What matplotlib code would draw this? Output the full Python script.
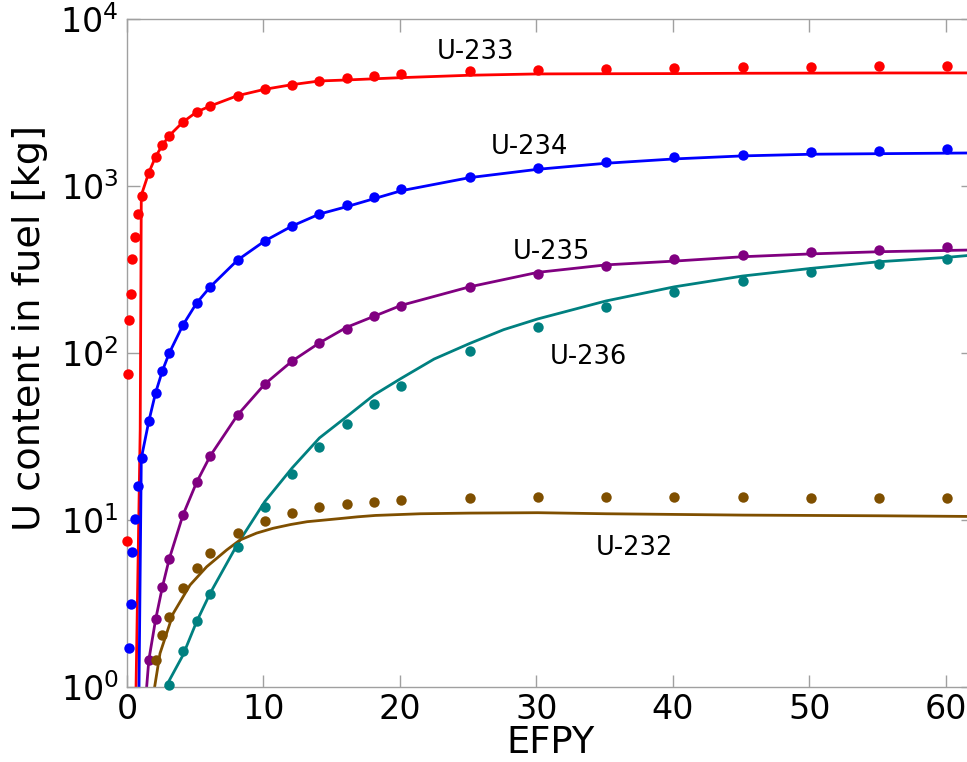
import numpy as np
import matplotlib
matplotlib.use("Agg")
import matplotlib.pyplot as plt
from matplotlib.ticker import NullLocator

nan = np.nan

# Depletion-code results (dots), shared time grid in EFPY
t_dots = [0.0, 0.07, 0.15, 0.27, 0.4, 0.6, 0.8, 1.07, 1.6, 2.1, 2.6, 3.1, 4.1, 5.1,
          6.1, 8.1, 10.1, 12.1, 14.1, 16.1, 18.1, 20.1, 25.1, 30.1, 35.1, 40.1,
          45.1, 50.1, 55.1, 60.1]
u233_dots = [7.5, 75, 158, 225, 366, 493, 679, 871, 1202, 1497, 1761, 2002, 2415, 2773,
             3012, 3473, 3794, 4044, 4254, 4416, 4558, 4668, 4886, 4971, 5021, 5070,
             5162, 5162, 5233, 5233]
u234_dots = [nan, nan, 1.71, 3.14, 6.46, 10.1, 16.0, 23.4, 39.0, 57.9, 78.4, 100, 147, 199,
             249, 360, 469, 576, 679, 769, 863, 955, 1137, 1277, 1393, 1486,
             1540, 1604, 1627, 1666]
u235_dots = [nan] * 8 + [1.45, 2.54, 3.99, 5.86, 10.7, 16.8, 24.2, 42.5, 65.2, 89.5, 115,
                         139, 166, 191, 248, 297, 332, 364, 386, 401, 416, 430]
u236_dots = [nan] * 11 + [1.03, 1.64, 2.48, 3.61, 6.89, 12.0, 18.8, 27.5, 37.7, 49.7,
                          63.7, 103, 144, 188, 231, 271, 307, 340, 367]
u232_dots = [nan] * 9 + [1.45, 2.05, 2.64, 3.93, 5.18, 6.32, 8.32, 9.86, 11.0, 11.9, 12.4,
                         12.9, 13.1, 13.6, 13.8, 13.8, 13.7, 13.7, 13.6, 13.6, 13.6]

# Reference calculation (solid lines)
u233_line_t = [0.66, 0.97, 1.05, 1.6, 2.1, 2.6, 3.1, 4.1, 5.1, 6.1, 8.1, 10.1, 12.1, 14.1,
               16.1, 20.1, 25.1, 30.1, 35.1, 40.1, 45.1, 50.1, 55.1, 62]
u233_line_kg = [0.95, 35, 880, 1202, 1497, 1761, 2002, 2415, 2773, 3012, 3473, 3794, 4044,
                4254, 4313, 4454, 4603, 4688, 4700, 4710, 4730, 4740, 4750, 4753]
u234_line_t = [0.88, 1.05, 1.6, 2.1, 2.6, 3.1, 4.1, 5.1, 6.1, 8.1, 10.1, 12.1, 14.1, 16.1,
               20.1, 25.1, 30.1, 35.1, 40.1, 45.1, 50.1, 55.1, 62]
u234_line_kg = [0.95, 23.4, 39, 57.9, 78.4, 100, 147, 199, 249, 360, 469, 576, 679, 752,
                937, 1122, 1259, 1368, 1452, 1514, 1549, 1561, 1577]
u235_line_t = [1.42, 1.6, 2.1, 2.6, 3.1, 4.1, 5.1, 6.1, 8.1, 10.1, 12.1, 14.1, 16.1, 20.1,
               25.1, 30.1, 35.1, 40.1, 45.1, 50.1, 55.1, 62]
u235_line_kg = [0.95, 1.45, 2.54, 3.99, 5.86, 10.7, 16.8, 24.2, 42.5, 65.2, 89.5, 115, 142.6,
                193, 249, 304, 337, 355, 377, 392, 404, 414]
u236_line_t = [2.75, 4.1, 5.1, 6.1, 8.1, 10.1, 12.1, 14.1, 16.1, 18.1, 20.1, 22.5, 25.1,
               27.6, 30.1, 35.1, 40.1, 45.1, 50.1, 55.1, 60.1, 62]
u236_line_kg = [0.97, 1.55, 2.46, 3.65, 7.18, 12.9, 20.5, 31.0, 41.6, 56.1, 70.6, 92, 114,
                138, 160, 205, 249, 289, 321, 352, 374, 386]
u232_line_t = [2.0, 2.42, 3.39, 4.62, 5.84, 7.3, 8.28, 9.5, 10.7, 12.0, 13.2, 14.5, 15.6,
               16.9, 18.2, 21.5, 25.1, 30.1, 35.1, 40.1, 45.1, 55.1, 62]
u232_line_kg = [0.97, 1.59, 2.76, 4.08, 5.25, 6.61, 7.59, 8.35, 8.92, 9.40, 9.77, 10.0, 10.2,
                10.45, 10.65, 10.9, 11.0, 11.06, 10.9, 10.8, 10.7, 10.6, 10.5]

isotopes = ["U-233", "U-234", "U-235", "U-236", "U-232"]
colors = ["#ff0000", "#0000ff", "#800080", "#008080", "#7f4f00"]
dots = [u233_dots, u234_dots, u235_dots, u236_dots, u232_dots]
lines_t = [u233_line_t, u234_line_t, u235_line_t, u236_line_t, u232_line_t]
lines_kg = [u233_line_kg, u234_line_kg, u235_line_kg, u236_line_kg, u232_line_kg]
label_x = [25.5, 29.5, 31.1, 33.8, 37.2]
label_y = [6370, 1718, 404, 95, 6.8]

fig = plt.figure(figsize=(9.67, 7.62), dpi=100)
ax = fig.add_axes([0.1313, 0.0984, 0.8752, 0.8767])

for name, c, d, lt, lk, lx, ly in zip(isotopes, colors, dots, lines_t, lines_kg,
                                       label_x, label_y):
    ax.plot(lt, lk, color=c, lw=2.0, zorder=2)
    ax.plot(t_dots, d, 'o', color=c, ms=7.5, mec='none', zorder=3, clip_on=False)
    ax.text(lx, ly, name, fontsize=18.5, ha='center', va='center')

ax.set_yscale('log')
ax.set_xlim(0, 62)
ax.set_ylim(1, 1e4)
ax.set_xticks([0, 10, 20, 30, 40, 50, 60])
ax.set_yticks([1, 10, 100, 1000, 10000])
ax.yaxis.set_minor_locator(NullLocator())

for s in ax.spines.values():
    s.set_color('#a0a0a0')
    s.set_linewidth(1.0)
ax.tick_params(which='major', direction='in', length=9, width=1, color='#a0a0a0',
               labelsize=24, top=True, right=True)
ax.tick_params(axis='x', pad=4)
ax.tick_params(axis='y', pad=6)

ax.set_xlabel("EFPY", fontsize=26.5, va='baseline')
ax.xaxis.set_label_coords(0.5, -0.0985)
ax.set_ylabel("U content in fuel [kg]", fontsize=27.5, va='center')
ax.yaxis.set_label_coords(-0.114, 0.537)

fig.savefig("out.png", dpi=100)
